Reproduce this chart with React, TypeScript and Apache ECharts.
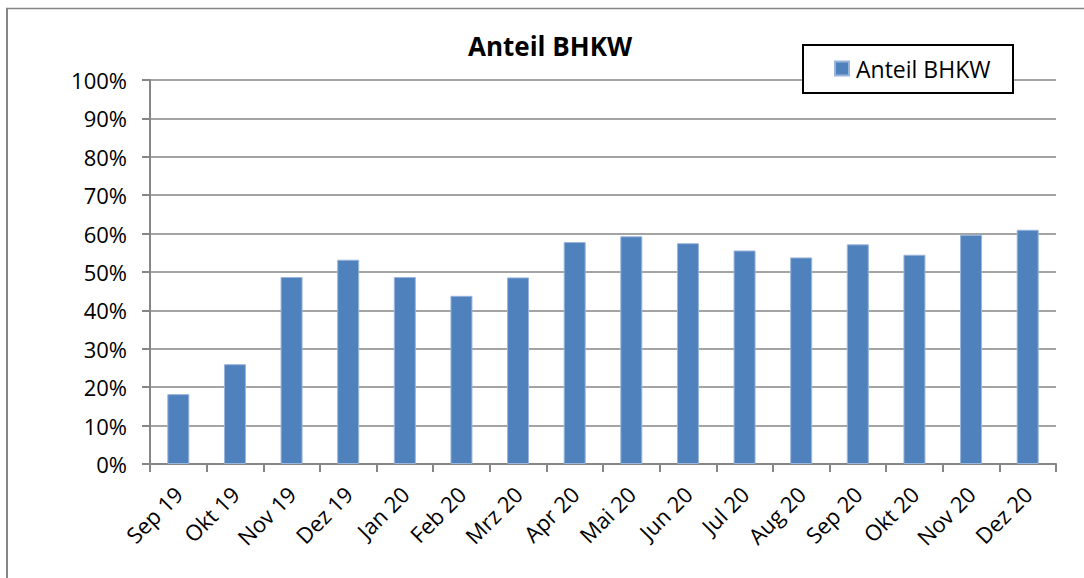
import React, { useEffect, useRef } from "react";
import * as echarts from "echarts";

const categories = [
  "Sep 19", "Okt 19", "Nov 19", "Dez 19", "Jan 20", "Feb 20", "Mrz 20", "Apr 20",
  "Mai 20", "Jun 20", "Jul 20", "Aug 20", "Sep 20", "Okt 20", "Nov 20", "Dez 20",
];
const anteilBHKW = [18.2, 26.0, 48.7, 53.2, 48.7, 43.8, 48.6, 57.8, 59.3, 57.5, 55.6, 53.8, 57.2, 54.5, 59.7, 61.0];
const seriesName = "Anteil BHKW";
const chartTitle = "Anteil BHKW";

const FONT = "'Open Sans', 'Noto Sans', sans-serif";
const GRAY = "#868686";

export default function App() {
  const ref = useRef<HTMLDivElement>(null);
  useEffect(() => {
    if (!ref.current) return;
    const chart = echarts.init(ref.current, undefined, { renderer: "svg" });
    chart.setOption({
      animation: false,
      backgroundColor: "#ffffff",
      textStyle: { fontFamily: FONT },
      title: {
        text: chartTitle,
        left: 550,
        textAlign: "center",
        top: 33,
        padding: 0,
        textStyle: { fontFamily: FONT, fontSize: 26, fontWeight: "bold", color: "#000" },
      },
      legend: {
        data: [seriesName],
        left: 834,
        top: 57,
        padding: 0,
        icon: "rect",
        itemWidth: 14,
        itemHeight: 14,
        itemGap: 5,
        textStyle: { fontFamily: FONT, fontSize: 23, color: "#000", padding: [0, 0, 0, 2] },
        z: 6,
      },
      graphic: [
        {
          type: "line",
          z: 1,
          shape: { x1: 7, y1: 8, x2: 7, y2: 578 },
          style: { stroke: GRAY, lineWidth: 2 },
        },
        {
          type: "line",
          z: 1,
          shape: { x1: 6, y1: 8.5, x2: 1084, y2: 8.5 },
          style: { stroke: GRAY, lineWidth: 1.5 },
        },
        {
          type: "rect",
          z: 5,
          shape: { x: 803, y: 45, width: 210, height: 48 },
          style: { fill: "#ffffff", stroke: "#000000", lineWidth: 2 },
        },
      ],
      grid: { left: 150, right: 28, top: 80, bottom: 114, containLabel: false },
      xAxis: {
        type: "category",
        data: categories,
        boundaryGap: true,
        axisLine: { show: true, lineStyle: { color: GRAY, width: 2 } },
        axisTick: { show: true, alignWithLabel: false, length: 8, lineStyle: { color: GRAY, width: 2 } },
        axisLabel: {
          rotate: 45,
          interval: 0,
          margin: 26,
          fontFamily: FONT,
          fontSize: 22,
          color: "#000",
        },
      },
      yAxis: {
        type: "value",
        min: 0,
        max: 100,
        interval: 10,
        axisLine: { show: true, lineStyle: { color: GRAY, width: 2 } },
        axisTick: { show: true, length: 8, inside: false, lineStyle: { color: GRAY, width: 2 } },
        axisLabel: {
          formatter: "{value}%",
          margin: 23,
          fontFamily: FONT,
          fontSize: 22,
          color: "#000",
        },
        splitLine: { show: true, lineStyle: { color: GRAY, width: 1.5 } },
      },
      series: [
        {
          name: seriesName,
          type: "bar",
          data: anteilBHKW,
          barWidth: 22,
          itemStyle: { color: "#4F81BD", borderColor: "#9ab5db", borderWidth: 1 },
        },
      ],
    });
    return () => chart.dispose();
  }, []);
  return (
    <div
      ref={ref}
      style={{ position: "absolute", left: 0, top: 0, width: 1084, height: 578 }}
    />
  );
}
